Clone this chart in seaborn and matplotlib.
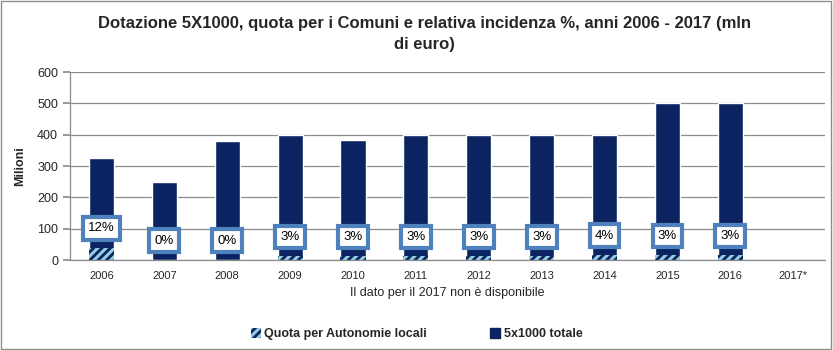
import matplotlib
matplotlib.use("Agg")
import matplotlib.pyplot as plt
import seaborn as sns
import pandas as pd
import numpy as np
from matplotlib.patches import Patch, Rectangle

years = ["2006", "2007", "2008", "2009", "2010", "2011", "2012", "2013", "2014", "2015", "2016", "2017*"]
totale = [327, 250, 380, 400, 383, 400, 400, 400, 400, 500, 500, np.nan]
quota = [39, 0, 0, 12, 11.5, 12, 12, 12, 16, 15, 15, np.nan]
incidenza = ["12%", "0%", "0%", "3%", "3%", "3%", "3%", "3%", "4%", "3%", "3%", None]

df = pd.DataFrame({"anno": years, "totale": totale, "quota": quota})

sns.set_theme(style="white")
plt.rcParams["font.family"] = ["Liberation Sans", "DejaVu Sans"]
plt.rcParams["hatch.linewidth"] = 2.0

fig = plt.figure(figsize=(8.33, 3.5), dpi=100)
ax = fig.add_axes([0.084, 0.257, 0.906, 0.537])

navy = "#0B2361"
light = "#93CDDD"

sns.barplot(data=df, x="anno", y="totale", color=navy, width=0.4, ax=ax,
            saturation=1, order=years)
n_before = len(ax.patches)
sns.barplot(data=df, x="anno", y="quota", color=light, width=0.4, ax=ax,
            saturation=1, order=years)
for p in ax.patches[n_before:]:
    p.set_hatch("////")
    p.set_edgecolor(navy)
    p.set_linewidth(0)

for i, (q, lab) in enumerate(zip(quota, incidenza)):
    if lab is None:
        continue
    ax.annotate(lab, (i, q), xytext=(0, 14), textcoords="offset points",
                ha="center", va="center", fontsize=9.5, color="black",
                bbox=dict(boxstyle="square,pad=0.4", fc="white", ec="#4F81BD", lw=3))

ax.set_ylim(0, 600)
ax.set_xlim(-0.5, len(years) - 0.5)
ax.set_yticks(range(0, 601, 100))
ax.yaxis.grid(True, color="#8C8C8C", lw=0.9)
ax.set_axisbelow(True)
for s in ["top", "right"]:
    ax.spines[s].set_visible(False)
for s in ["left", "bottom"]:
    ax.spines[s].set_color("#8C8C8C")
    ax.spines[s].set_linewidth(0.9)

ax.set_xticks(np.arange(len(years)))
ax.set_xticklabels(years, fontsize=8)
ax.set_xticks(np.arange(-0.5, len(years), 1), minor=True)
ax.tick_params(axis="x", which="major", length=0, pad=8)
ax.tick_params(axis="x", which="minor", length=5, color="#8C8C8C", direction="out")
ax.tick_params(axis="y", length=5, color="#8C8C8C", direction="out", labelsize=9, left=True)

ax.set_xlabel("Il dato per il 2017 non è disponibile", fontsize=9, labelpad=4)
ax.set_ylabel("Milioni", fontsize=9, fontweight="bold", labelpad=8)

fig.text(0.51, 0.955, "Dotazione 5X1000, quota per i Comuni e relativa incidenza %, anni 2006 - 2017 (mln\ndi euro)",
         ha="center", va="top", fontsize=12, fontweight="bold", linespacing=1.5)

handles = [Patch(facecolor=light, edgecolor=navy, hatch="////", lw=0, label="Quota per Autonomie locali"),
           Patch(facecolor=navy, edgecolor=navy, label="5x1000 totale")]
fig.legend(handles=handles, loc="center", bbox_to_anchor=(0.5, 0.045), ncol=2, frameon=False,
           prop={"size": 9, "weight": "bold"}, handlelength=0.8, handleheight=0.8,
           columnspacing=5, handletextpad=0.3)

fig.patches.append(Rectangle((0.001, 0.002), 0.997, 0.995, transform=fig.transFigure,
                             fill=False, ec="#8C8C8C", lw=1))

fig.savefig("out.png", dpi=100)
